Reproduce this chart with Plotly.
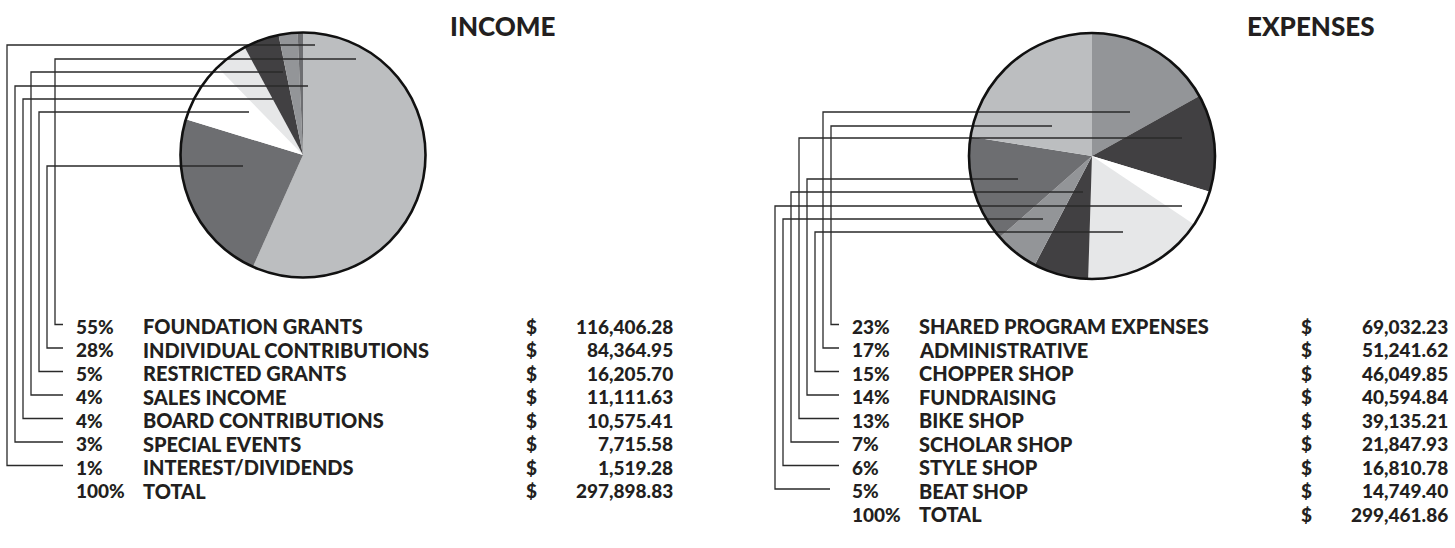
import plotly.graph_objects as go

W, H = 1455, 548
FONT = "Lato"
INK = "#231f20"

# ---------------- data ----------------
income_categories = ["FOUNDATION GRANTS", "INDIVIDUAL CONTRIBUTIONS", "RESTRICTED GRANTS",
                     "SALES INCOME", "BOARD CONTRIBUTIONS", "SPECIAL EVENTS", "INTEREST/DIVIDENDS"]
income_pct = [55, 28, 5, 4, 4, 3, 1]
income_amounts = [116406.28, 84364.95, 16205.70, 11111.63, 10575.41, 7715.58, 1519.28]
income_total = 297898.83
# slice sizes as drawn in the pie (%), clockwise from 12 o'clock in table order
income_share = [56.7, 23.0, 8.0, 4.4, 4.7, 2.5, 0.7]
income_colors = ["#bcbec0", "#6d6e71", "#ffffff", "#e6e7e8", "#414042", "#939598", "#6d6e71"]

expense_categories = ["SHARED PROGRAM EXPENSES", "ADMINISTRATIVE", "CHOPPER SHOP", "FUNDRAISING",
                      "BIKE SHOP", "SCHOLAR SHOP", "STYLE SHOP", "BEAT SHOP"]
expense_pct = [23, 17, 15, 14, 13, 7, 6, 5]
expense_amounts = [69032.23, 51241.62, 46049.85, 40594.84, 39135.21, 21847.93, 16810.78, 14749.40]
expense_total = 299461.86
# pie order clockwise from 12 o'clock and slice sizes as drawn (%)
expense_pie_order = ["ADMINISTRATIVE", "BIKE SHOP", "BEAT SHOP", "CHOPPER SHOP",
                     "SCHOLAR SHOP", "STYLE SHOP", "FUNDRAISING", "SHARED PROGRAM EXPENSES"]
expense_share = [16.9, 12.8, 4.7, 16.1, 7.2, 5.8, 14.0, 22.5]
expense_colors = ["#939598", "#414042", "#ffffff", "#e6e7e8", "#414042", "#939598", "#6d6e71", "#bcbec0"]

# ---------------- layout constants ----------------
ROW0, ROW_STEP = 326.0, 23.5
INC_C, INC_R = (303, 155), 122.5
EXP_C, EXP_R = (1092, 156), 123
# leader lines (table order): vertical x, top y, end x inside the pie
inc_lead_vx = [55, 47, 39, 31, 23, 15, 7]
inc_lead_top = [59, 166, 112, 72, 99, 86, 45]
inc_lead_end = [356, 243, 249, 283, 273, 308, 315]
inc_stub = [63] * 7
exp_lead_vx = [831, 823, 815, 807, 799, 791, 783, 775]
exp_lead_top = [126, 112, 232, 179, 138, 192, 219, 206]
exp_lead_end = [1052, 1130, 1123, 1018, 1182, 1083, 1043, 1182]
exp_stub = [839, 839, 839, 839, 839, 839, 839, 830]

INC_COLS = dict(pct=74, label=141, dollar=524, amount=675)
EXP_COLS = dict(pct=850, label=917, dollar=1299, amount=1450)
TXT_SIZE = 19
LABEL_SIZE = 20


def domain(c, r):
    cx, cy = c
    return dict(x=[(cx - r) / W, (cx + r) / W], y=[1 - (cy + r) / H, 1 - (cy - r) / H])


fig = go.Figure()
fig.add_trace(go.Scatter(x=[0, W], y=[0, H], mode="markers", marker=dict(opacity=0),
                         hoverinfo="skip", showlegend=False))
fig.add_trace(go.Pie(values=income_share, labels=income_categories, sort=False,
                     direction="clockwise", rotation=0, textinfo="none",
                     marker=dict(colors=income_colors, line=dict(width=0)),
                     domain=domain(INC_C, INC_R), showlegend=False))
fig.add_trace(go.Pie(values=expense_share, labels=expense_pie_order, sort=False,
                     direction="clockwise", rotation=0, textinfo="none",
                     marker=dict(colors=expense_colors, line=dict(width=0)),
                     domain=domain(EXP_C, EXP_R), showlegend=False))

shapes = []
annotations = []


def txt(x, y, s, anchor="left", size=TXT_SIZE):
    annotations.append(dict(x=x, y=y, xref="x", yref="y", text=s, showarrow=False,
                            xanchor=anchor, yanchor="middle",
                            font=dict(family=FONT, size=size, color=INK, weight=900)))


def block(cats, pcts, amts, total, cols, vx, top, end, stub, center, radius):
    for i, (c, p, a) in enumerate(zip(cats, pcts, amts)):
        y = ROW0 + i * ROW_STEP
        txt(cols["pct"], y, f"{p}%")
        txt(cols["label"], y, c, size=LABEL_SIZE)
        txt(cols["dollar"], y, "$")
        txt(cols["amount"], y, f"{a:,.2f}", anchor="right")
        ly = y - 1.5
        shapes.append(dict(type="path", xref="x", yref="y", layer="above",
                           path=f"M {end[i]},{top[i]} L {vx[i]},{top[i]} L {vx[i]},{ly} L {stub[i]},{ly}",
                           line=dict(color="#2a2a2a", width=1.3)))
    y = ROW0 + len(cats) * ROW_STEP
    txt(cols["pct"], y, "100%")
    txt(cols["label"], y, "TOTAL", size=LABEL_SIZE)
    txt(cols["dollar"], y, "$")
    txt(cols["amount"], y, f"{total:,.2f}", anchor="right")
    cx, cy = center
    shapes.append(dict(type="circle", xref="x", yref="y", layer="above",
                       x0=cx - radius, x1=cx + radius, y0=cy - radius, y1=cy + radius,
                       line=dict(color="#111111", width=2.6)))


block(income_categories, income_pct, income_amounts, income_total, INC_COLS,
      inc_lead_vx, inc_lead_top, inc_lead_end, inc_stub, INC_C, INC_R)
block(expense_categories, expense_pct, expense_amounts, expense_total, EXP_COLS,
      exp_lead_vx, exp_lead_top, exp_lead_end, exp_stub, EXP_C, EXP_R)

txt(502, 26, "INCOME", anchor="center", size=26)
txt(1311, 26, "EXPENSES", anchor="center", size=26)

fig.update_layout(
    width=W, height=H, margin=dict(l=0, r=0, t=0, b=0),
    paper_bgcolor="white", plot_bgcolor="white",
    xaxis=dict(range=[0, W], visible=False, fixedrange=True),
    yaxis=dict(range=[H, 0], visible=False, fixedrange=True),
    shapes=shapes, annotations=annotations, showlegend=False,
)
fig.write_html("out.html", config=dict(displayModeBar=False),
               post_script="document.body.style.margin='0';document.body.style.overflow='hidden';")
